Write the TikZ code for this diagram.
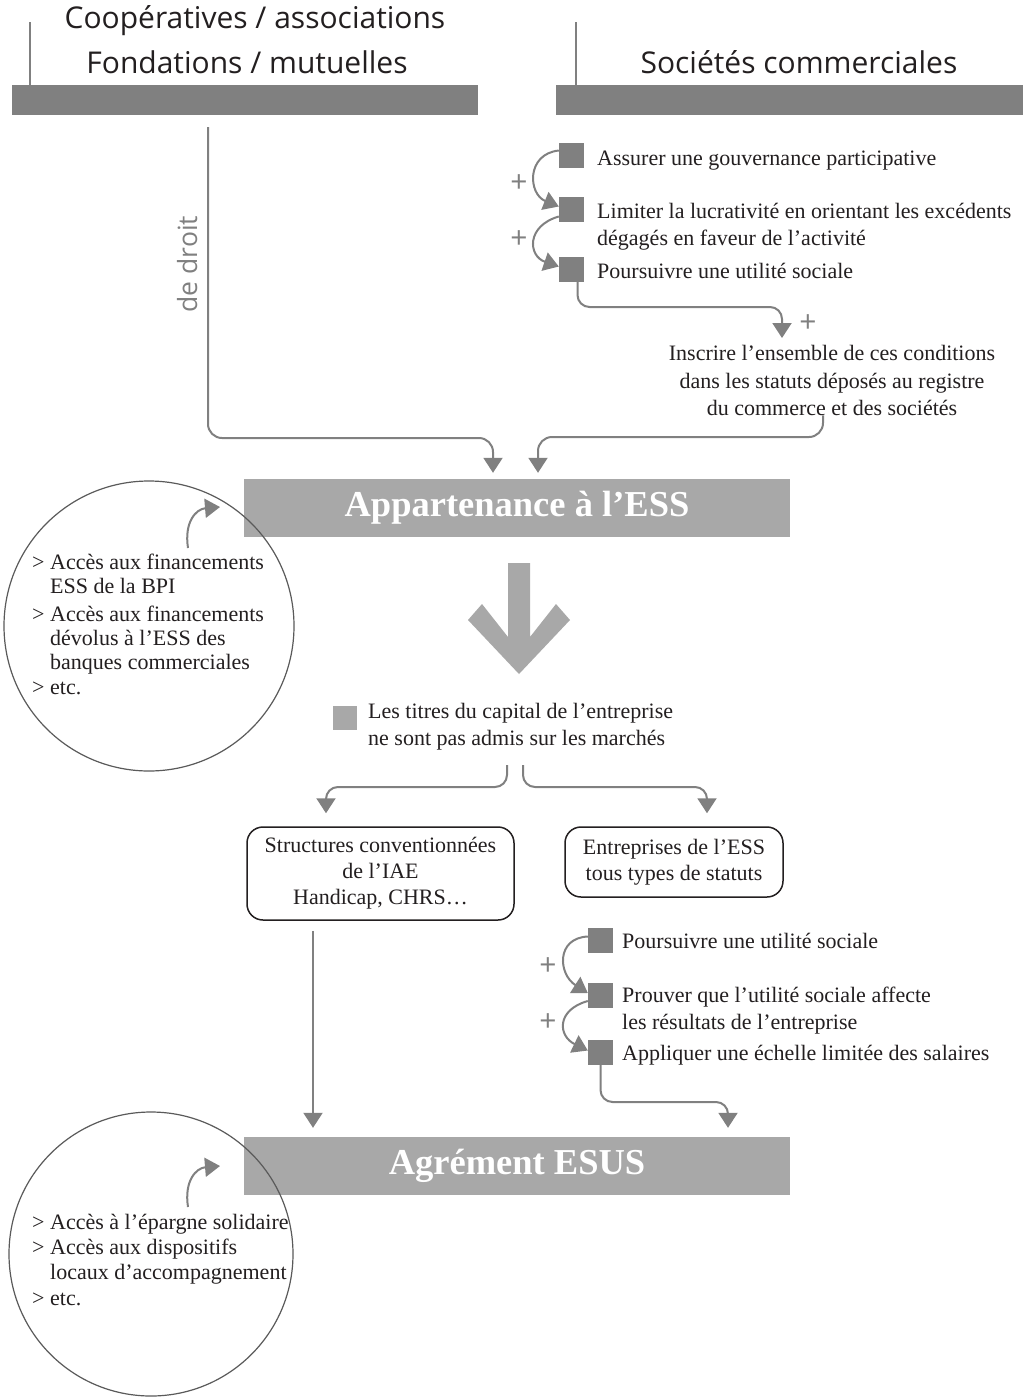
\documentclass[tikz,border=0pt]{standalone}
\usepackage{fontspec}
\setmainfont{Liberation Serif}
\newfontfamily\hdrfont{Open Sans}
\usetikzlibrary{arrows.meta}
\definecolor{dg}{HTML}{808080}
\definecolor{lg}{HTML}{A8A8A8}
\definecolor{ink}{HTML}{231F20}
\definecolor{cline}{HTML}{5A5A5A}
\tikzset{
 conn/.style={draw=dg, line width=2pt, -{Triangle[width=19pt,length=15pt]}},
 segline/.style={draw=dg, line width=2.5pt},
 bar/.style={fill=dg, inner sep=0pt, anchor=north west},
 sq/.style={fill=dg, minimum size=25pt, inner sep=0pt},
 lsq/.style={fill=lg, minimum size=24pt, inner sep=0pt},
 hdr/.style={font=\hdrfont\fontsize{30}{34}\selectfont, text=ink, inner sep=0pt, anchor=base},
 txt/.style={font=\fontsize{22}{27}\selectfont, text=ink, inner sep=0pt, anchor=base west},
 ctxt/.style={font=\fontsize{22}{27}\selectfont, text=ink, inner sep=0pt, anchor=base},
 bigbox/.style={fill=lg, minimum width=546pt, minimum height=58pt, inner sep=0pt, text=white, font=\bfseries\fontsize{36.5}{40}\selectfont},
 rbox/.style={draw=ink, line width=1.5pt, rounded corners=16pt, inner sep=0pt, align=center, font=\fontsize{22}{26}\selectfont, text=ink},
 plussign/.style={text=dg, font=\hdrfont\fontsize{30}{30}\selectfont, inner sep=0pt},
 ring/.style={circle, draw=cline, line width=1.2pt, inner sep=0pt},
}
\begin{document}
\begin{tikzpicture}[x=1pt,y=-1pt]
\useasboundingbox (0,0) rectangle (1023,1398);
\fill[white] (0,0) rectangle (1023,1398);

% headers
\node[hdr] (hL1) at (255,28) {Coopératives / associations};
\node[hdr] (hL2) at (247,73) {Fondations / mutuelles};
\node[hdr] (hR) at (799,73) {Sociétés commerciales};
\node[bar, minimum width=466pt, minimum height=30pt] (barL) at (12,85) {};
\node[bar, minimum width=467pt, minimum height=30pt] (barR) at (556,85) {};
\coordinate (tL) at (30,22);
\coordinate (tR) at (576,22);
\draw[segline] (tL) -- (tL |- barL.north);
\draw[segline] (tR) -- (tR |- barR.north);

% de droit
\node[rotate=90, anchor=base, text=dg, font=\hdrfont\fontsize{26.5}{26}\selectfont, inner sep=0pt] (dedroit) at (197,264) {de droit};

% list 1
\node[sq] (s1) at (571.5,155.5) {};
\node[sq] (s2) at (571.5,209.5) {};
\node[sq] (s3) at (571.5,269.5) {};
\node[txt] (t1) at (597,165) {Assurer une gouvernance participative};
\node[txt] (t2a) at (597,218) {Limiter la lucrativité en orientant les excédents};
\node[txt] (t2b) at (597,245) {dégagés en faveur de l’activité};
\node[txt] (t3) at (597,278) {Poursuivre une utilité sociale};
\draw[conn] ([yshift=5pt]s1.west) .. controls (526,154) and (528,194) .. ([yshift=3pt]s2.west);
\draw[conn] ([yshift=-7pt]s2.west) .. controls (526,226) and (528,256) .. ([yshift=3pt]s3.west);
\node[plussign] (p1) at (519,184) {+};
\node[plussign] (p2) at (519,240) {+};

% inscrire
\node[ctxt] (ins1) at (832,360) {Inscrire l’ensemble de ces conditions};
\node[ctxt] (ins2) at (832,388) {dans les statuts déposés au registre};
\node[ctxt] (ins3) at (832,415) {du commerce et des sociétés};
\coordinate (insIn) at (782,338);
\draw[conn, rounded corners=12pt] ([xshift=6pt]s3.south) |- (782,307) -- (insIn);
\node[plussign] (p3) at (808,324) {+};

% appartenance
\node[bigbox] (appart) at (517,508) {Appartenance à l’ESS};
\coordinate (dstart) at (208,127);
\draw[conn, rounded corners=14pt] (dstart) |- (493,438) -- ([xshift=-24pt,yshift=6pt]appart.north);
\draw[conn, rounded corners=14pt] ([xshift=-9pt]ins3.south) |- (538,437) -- ([xshift=21pt,yshift=6pt]appart.north);

% circle 1
\node[ring, minimum size=290pt] (c1) at (149,626) {};
\draw[conn] (188,548) .. controls (184,522) and (196,509) .. (220,507);
\node[txt] (g1) at (32,569) {>};
\node[txt] (a1) at (50,569) {Accès aux financements};
\node[txt] (a2) at (50,593) {ESS de la BPI};
\node[txt] (g2) at (32,621) {>};
\node[txt] (a3) at (50,621) {Accès aux financements};
\node[txt] (a4) at (50,645) {dévolus à l’ESS des};
\node[txt] (a5) at (50,669) {banques commerciales};
\node[txt] (g3) at (32,694) {>};
\node[txt] (a6) at (50,694) {etc.};

% big arrow
\fill[lg] (508,563) -- (530,563) -- (530,637) -- (556,604) -- (570,620) -- (519,674) -- (468,620) -- (482,604) -- (508,637) -- cycle;

% capital
\node[lsq] (ls) at (345,717.5) {};
\node[txt] (k1) at (368,718) {Les titres du capital de l’entreprise};
\node[txt] (k2) at (368,745) {ne sont pas admis sur les marchés};

% boxes
\node[rbox, minimum width=267pt, minimum height=93pt] (box1) at (380.5,873.5) {Structures conventionnées\\de l’IAE\\Handicap, CHRS…};
\node[rbox, minimum width=218pt, minimum height=70pt] (box2) at (674,862) {Entreprises de l’ESS\\tous types de statuts};
\coordinate (spL) at (507,765);
\coordinate (spR) at (523,765);
\draw[conn, rounded corners=12pt] (spL) |- (326,787) -- ([xshift=-54.5pt,yshift=13pt]box1.north);
\draw[conn, rounded corners=12pt] (spR) |- (707,787) -- ([xshift=33pt,yshift=13pt]box2.north);

% list 2
\node[sq] (q1) at (600.5,940.5) {};
\node[sq] (q2) at (600.5,995) {};
\node[sq] (q3) at (600.5,1052.5) {};
\node[txt] (u1) at (622,948) {Poursuivre une utilité sociale};
\node[txt] (u2a) at (622,1002) {Prouver que l’utilité sociale affecte};
\node[txt] (u2b) at (622,1029) {les résultats de l’entreprise};
\node[txt] (u3) at (622,1060) {Appliquer une échelle limitée des salaires};
\draw[conn] ([yshift=4pt]q1.west) .. controls (556,938) and (558,974) .. ([yshift=2pt]q2.west);
\draw[conn] ([yshift=-6pt]q2.west) .. controls (556,1010) and (558,1036) .. ([yshift=2pt]q3.west);
\node[plussign] (p4) at (548,967) {+};
\node[plussign] (p5) at (548,1023) {+};

% agrement
\node[bigbox] (agr) at (517,1166) {Agrément ESUS};
\draw[conn] ([xshift=-67.5pt,yshift=-10pt]box1.south) -- ([xshift=-204pt,yshift=9pt]agr.north);
\draw[conn, rounded corners=12pt] (q3.south) |- (728,1102) -- ([xshift=211pt,yshift=9pt]agr.north);

% circle 2
\node[ring, minimum size=284pt] (c2) at (151,1254) {};
\draw[conn] (188,1207) .. controls (184,1181) and (196,1168) .. (220,1166);
\node[txt] (g4) at (32,1229) {>};
\node[txt] (b1) at (50,1229) {Accès à l’épargne solidaire};
\node[txt] (g5) at (32,1254) {>};
\node[txt] (b2) at (50,1254) {Accès aux dispositifs};
\node[txt] (b3) at (50,1279) {locaux d’accompagnement};
\node[txt] (g6) at (32,1305) {>};
\node[txt] (b4) at (50,1305) {etc.};
\end{tikzpicture}
\end{document}
